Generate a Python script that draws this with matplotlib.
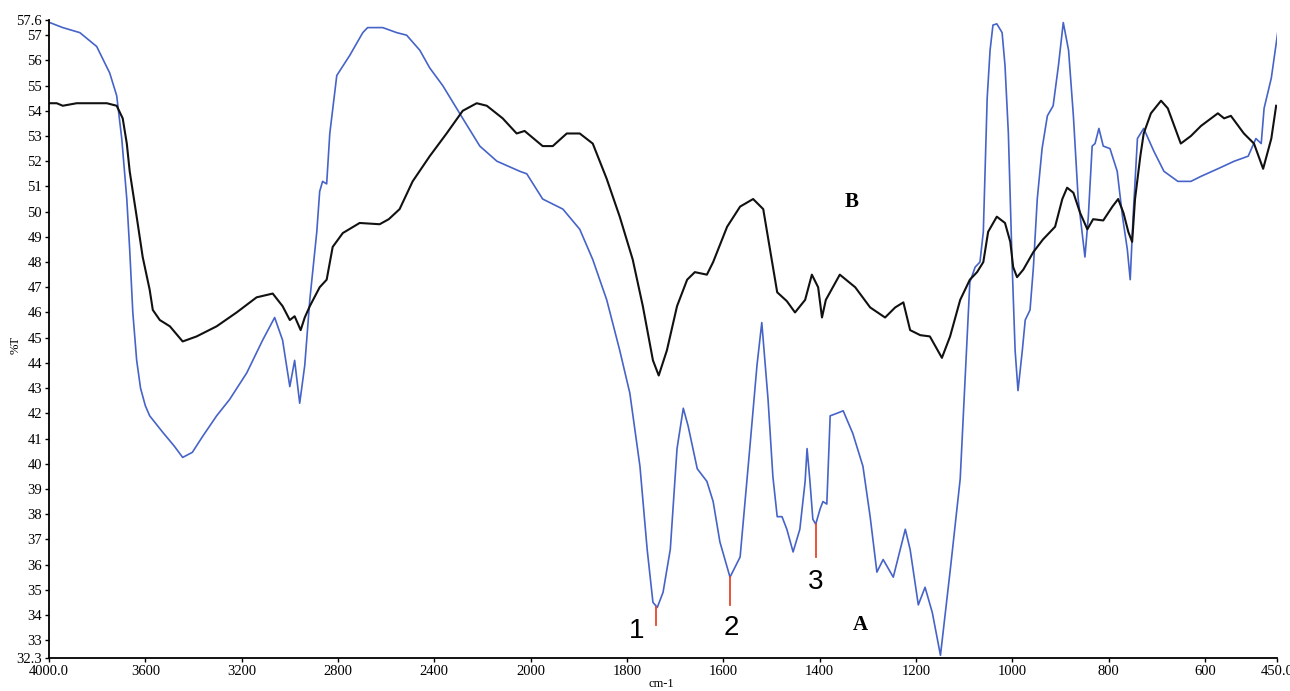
import numpy as np
import matplotlib
matplotlib.use("Agg")
import matplotlib.pyplot as plt

# spectrum A (blue) : wavenumber (cm-1), %T
wn_a = [3997, 3943, 3872, 3802, 3748, 3719, 3698, 3677, 3665, 3652,
        3636, 3620, 3600, 3582, 3528, 3480, 3445, 3405, 3361, 3304,
        3250, 3179, 3113, 3063, 3030, 3000, 2980, 2959, 2938, 2917,
        2888, 2876, 2864, 2847, 2834, 2805, 2751, 2697, 2677, 2614,
        2556, 2515, 2460, 2419, 2365, 2282, 2211, 2140, 2045, 2016,
        1975, 1933, 1898, 1871, 1842, 1815, 1794, 1773, 1758, 1746,
        1737, 1725, 1710, 1696, 1683, 1673, 1654, 1634, 1621, 1607,
        1586, 1565, 1545, 1530, 1520, 1507, 1497, 1488, 1478, 1468,
        1455, 1441, 1430, 1426, 1420, 1414, 1408, 1399, 1393, 1385,
        1378, 1364, 1351, 1331, 1310, 1295, 1281, 1268, 1247, 1222,
        1212, 1195, 1181, 1166, 1149, 1128, 1108, 1088, 1077, 1067,
        1060, 1052, 1046, 1040, 1032, 1021, 1015, 1008, 1000, 994,
        988, 979, 973, 963, 956, 948, 938, 927, 915, 904,
        894, 883, 873, 863, 855, 849, 842, 834, 828, 820,
        811, 797, 782, 771, 761, 755, 749, 740, 727, 706,
        685, 656, 629, 608, 573, 539, 510, 494, 483, 477,
        462, 448]
t_a = [57.5, 57.3, 57.1, 56.55, 55.5, 54.6, 52.9, 50.5, 48.5, 46.0,
       44.1, 43.0, 42.3, 41.9, 41.25, 40.7, 40.25, 40.45, 41.1, 41.9,
       42.55, 43.6, 44.9, 45.8, 44.9, 43.06, 44.1, 42.4, 43.9, 46.5,
       49.2, 50.8, 51.2, 51.1, 53.1, 55.4, 56.2, 57.1, 57.3, 57.3,
       57.1, 57.0, 56.4, 55.7, 55.0, 53.7, 52.6, 52.0, 51.6, 51.5,
       50.5, 50.1, 49.3, 48.1, 46.5, 44.5, 42.8, 39.9, 36.6, 34.5,
       34.3, 34.9, 36.6, 40.6, 42.2, 41.5, 39.8, 39.3, 38.5, 36.9,
       35.5, 36.3, 40.6, 43.9, 45.6, 42.55, 39.5, 37.9, 37.9, 37.4,
       36.5, 37.4, 39.3, 40.6, 39.3, 37.8, 37.6, 38.2, 38.5, 38.4,
       41.9, 42.0, 42.1, 41.2, 39.9, 37.9, 35.7, 36.2, 35.5, 37.4,
       36.6, 34.4, 35.1, 34.1, 32.4, 35.9, 39.4, 47.2, 47.8, 48.0,
       49.2, 54.5, 56.4, 57.4, 57.45, 57.1, 55.8, 53.1, 47.8, 44.5,
       42.9, 44.5, 45.7, 46.1, 47.8, 50.5, 52.5, 53.8, 54.2, 55.8,
       57.5, 56.4, 53.8, 50.5, 49.2, 48.2, 49.8, 52.6, 52.7, 53.3,
       52.6, 52.5, 51.6, 49.8, 48.5, 47.3, 49.8, 52.9, 53.3, 52.4,
       51.6, 51.2, 51.2, 51.4, 51.7, 52.0, 52.2, 52.9, 52.7, 54.1,
       55.3, 57.2]

# spectrum B (black)
wn_b = [3997, 3968, 3943, 3885, 3760, 3719, 3694, 3677, 3665, 3636,
        3611, 3582, 3569, 3540, 3498, 3445, 3387, 3304, 3221, 3138,
        3071, 3030, 3000, 2980, 2955, 2938, 2917, 2876, 2847, 2822,
        2780, 2710, 2627, 2589, 2544, 2490, 2419, 2349, 2282, 2224,
        2182, 2116, 2058, 2025, 1975, 1954, 1925, 1898, 1871, 1842,
        1815, 1788, 1767, 1746, 1734, 1717, 1696, 1675, 1659, 1634,
        1621, 1592, 1565, 1538, 1517, 1503, 1488, 1468, 1451, 1430,
        1416, 1403, 1395, 1387, 1358, 1326, 1295, 1264, 1243, 1226,
        1212, 1191, 1171, 1146, 1129, 1108, 1088, 1073, 1060, 1050,
        1032, 1015, 1004, 998, 990, 977, 956, 936, 911, 896,
        886, 873, 859, 844, 832, 811, 792, 780, 769, 759,
        751, 745, 734, 727, 712, 691, 677, 650, 629, 608,
        573, 560, 546, 519, 498, 479, 462, 452]
t_b = [54.3, 54.3, 54.2, 54.3, 54.3, 54.2, 53.7, 52.7, 51.6, 49.8,
       48.2, 46.9, 46.1, 45.7, 45.45, 44.85, 45.05, 45.45, 46.0, 46.6,
       46.75, 46.25, 45.7, 45.85, 45.3, 45.8, 46.25, 47.0, 47.3, 48.6,
       49.15, 49.55, 49.5, 49.7, 50.1, 51.2, 52.2, 53.1, 54.0, 54.3,
       54.2, 53.7, 53.1, 53.2, 52.6, 52.6, 53.1, 53.1, 52.7, 51.3,
       49.8, 48.1, 46.25, 44.1, 43.5, 44.5, 46.25, 47.3, 47.6, 47.5,
       48.0, 49.4, 50.2, 50.5, 50.1, 48.5, 46.8, 46.45, 46.0, 46.5,
       47.5, 47.0, 45.8, 46.5, 47.5, 47.0, 46.2, 45.8, 46.2, 46.4,
       45.3, 45.1, 45.05, 44.2, 45.05, 46.5, 47.3, 47.6, 48.0, 49.2,
       49.8, 49.55, 48.8, 47.8, 47.4, 47.7, 48.4, 48.9, 49.4, 50.5,
       50.95, 50.75, 49.95, 49.3, 49.7, 49.65, 50.2, 50.5, 49.95, 49.2,
       48.8, 50.5, 52.2, 53.1, 53.9, 54.4, 54.1, 52.7, 53.0, 53.4,
       53.9, 53.7, 53.8, 53.1, 52.7, 51.7, 52.9, 54.2]

# marked bands on A: position, line bottom, line top
band_wn = [1740, 1586, 1408]
band_lo = [33.6, 34.4, 36.3]
band_hi = [34.3, 35.5, 37.6]

xticks = [4000, 3600, 3200, 2800, 2400, 2000, 1800, 1600, 1400, 1200, 1000, 800, 600, 450]
xlabels = ["4000.0", "3600", "3200", "2800", "2400", "2000", "1800", "1600", "1400",
           "1200", "1000", "800", "600", "450.0"]
yticks = [32.3] + list(range(33, 58)) + [57.6]
ylabels = ["32.3"] + [str(v) for v in range(33, 58)] + ["57.6"]


# expanded scale below 2000 cm-1 (x2)
def fwd(w):
    w = np.asarray(w, dtype=float)
    return np.where(w >= 2000, w, 2 * w - 2000)


def inv(u):
    u = np.asarray(u, dtype=float)
    return np.where(u >= 2000, u, (u + 2000) / 2)


fig = plt.figure(figsize=(12.9, 6.91), dpi=100)
ax = fig.add_axes([0.038, 0.048, 0.952, 0.923])
ax.set_xscale("function", functions=(fwd, inv))

ax.plot(wn_a, t_a, color="#4663c8", lw=1.2)
ax.plot(wn_b, t_b, color="#111111", lw=1.5)

for w, lo, hi in zip(band_wn, band_lo, band_hi):
    ax.plot([w, w], [lo, hi], color="#e8452c", lw=1.3)

ax.text(1779, 33.35, "1", fontsize=20, family="Liberation Sans", ha="center", va="center")
ax.text(1584, 33.5, "2", fontsize=20, family="Liberation Sans", ha="center", va="center")
ax.text(1408, 35.3, "3", fontsize=20, family="Liberation Sans", ha="center", va="center")
ax.text(1316, 33.6, "A", fontsize=15, family="Liberation Serif", weight="bold",
        ha="center", va="center")
ax.text(1333, 50.4, "B", fontsize=15, family="Liberation Serif", weight="bold",
        ha="center", va="center")

ax.set_xlim(4000, 450)
ax.set_ylim(32.3, 57.6)
ax.set_xticks(xticks)
ax.set_xticklabels(xlabels)
ax.set_yticks(yticks)
ax.set_yticklabels(ylabels)
ax.minorticks_off()
for lab in ax.get_xticklabels() + ax.get_yticklabels():
    lab.set_family("Liberation Serif")
    lab.set_fontsize(10.5)
ax.tick_params(direction="out", length=3, width=1, pad=2)

for s in ["top", "right"]:
    ax.spines[s].set_visible(False)
for s in ["left", "bottom"]:
    ax.spines[s].set_linewidth(1.3)

fig.text(0.513, 0.002, "cm-1", fontsize=9, family="Liberation Serif", ha="center", va="bottom")
fig.text(0.012, 0.5, "%T", fontsize=9, family="Liberation Serif", rotation=90,
         ha="center", va="center")

plt.savefig("out.png", dpi=100)
